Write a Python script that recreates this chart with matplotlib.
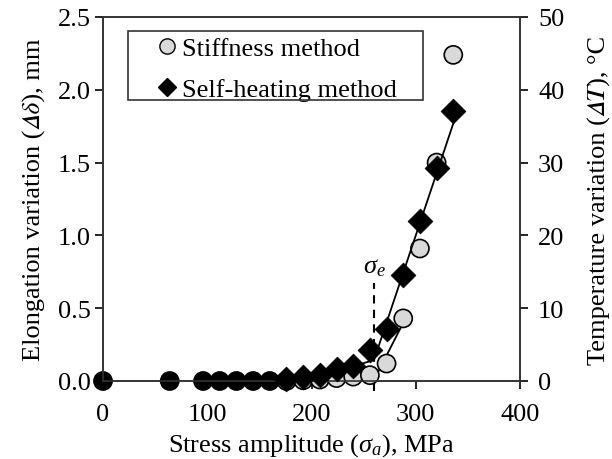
import matplotlib
matplotlib.use("Agg")
import matplotlib.pyplot as plt
from matplotlib.lines import Line2D
from matplotlib.patches import Rectangle

plt.rcParams['font.family'] = ['Liberation Serif', 'STIXGeneral', 'DejaVu Serif']
plt.rcParams['mathtext.fontset'] = 'custom'
plt.rcParams['mathtext.rm'] = 'Liberation Serif'
plt.rcParams['mathtext.it'] = 'Liberation Serif:italic'

# Data
stress = [0, 64, 96, 112, 128, 144, 160, 176, 192, 208, 224, 240, 256, 272, 288, 304, 320, 336]
stiffness = [0, 0, 0, 0, 0, 0, 0, 0.0, 0.005, 0.01, 0.02, 0.03, 0.04, 0.12, 0.43, 0.91, 1.50, 2.24]
sh_stress = [176, 192, 208, 224, 240, 256, 272, 288, 304, 320, 336]
sh_temp = [0.3, 0.5, 0.8, 1.6, 2.1, 4.3, 7.1, 14.6, 22.0, 29.3, 37.1]
# fitted lines
stiff_fit_x = [259.5, 288]
stiff_fit_y = [0.0, 0.40]
sh_fit_low_x = [200, 260]
sh_fit_low_y = [0.2, 2.9]
sh_fit_high_x = [260, 337]
sh_fit_high_y = [2.9, 35.8]
sigma_e = 260
x_ticks = [0, 100, 200, 300, 400]
left_ticks = [0, 0.5, 1.0, 1.5, 2.0, 2.5]
left_ticklabels = ['0.0', '0.5', '1.0', '1.5', '2.0', '2.5']
right_ticks = [0, 10, 20, 30, 40, 50]

W, H = 612, 460
fig = plt.figure(figsize=(6.12, 4.6), dpi=100)
ax = fig.add_axes([103/W, 1-382/H, (520-103)/W, (382-18)/H])
ax2 = ax.twinx()

fs = 19
gray = '#d9d9d9'
face = ['black' if s < 170 else gray for s in stress]

ax.plot(stiff_fit_x, stiff_fit_y, color='black', lw=1.3, zorder=2)
ax.scatter(stress, stiffness, s=170, c=face, edgecolors='black', linewidths=1.2,
           zorder=3, clip_on=False)

ax2.plot(sh_fit_low_x, sh_fit_low_y, color='black', lw=1.3, zorder=2)
ax2.plot(sh_fit_high_x, sh_fit_high_y, color='black', lw=1.3, zorder=2)
ax2.scatter(sh_stress, sh_temp, s=160, marker='D', c='black', edgecolors='black',
            linewidths=0.5, zorder=4, clip_on=False)

ax.set_xlim(0, 400)
ax.set_ylim(0, 2.5)
ax2.set_ylim(0, 50)
ax.set_xticks(x_ticks)
ax.set_yticks(left_ticks)
ax.set_yticklabels(left_ticklabels)
ax2.set_yticks(right_ticks)

ax.tick_params(axis='both', direction='out', length=6, width=1.2, labelsize=fs)
ax.tick_params(axis='x', pad=10)
ax.tick_params(axis='y', pad=3)
ax2.tick_params(axis='y', direction='out', length=6, width=1.2, labelsize=fs, pad=7)
for a in (ax, ax2):
    for sp in a.spines.values():
        sp.set_linewidth(1.2)
        sp.set_color('#333333')

ax.set_xlabel(r'Stress amplitude ($\mathit{\sigma_a}$), MPa', fontsize=fs)
ax.xaxis.set_label_coords(0.5, -0.138)
ax.set_ylabel('Elongation variation (\U0001D6E5\U0001D6FF), mm', fontsize=fs)
ax.yaxis.set_label_coords(-0.137, 0.5)
ax2.set_ylabel('Temperature variation (\U0001D6E5\U0001D447), \u00b0C', fontsize=fs,
               rotation=90)
ax2.yaxis.set_label_coords(1.163, 0.5)

# sigma_e marker
ax.plot([sigma_e, sigma_e], [-0.07, 0.67], color='black', lw=1.5, ls=(0, (4, 3)),
        clip_on=False, zorder=1)
ax.text(sigma_e, 0.71, r'$\mathit{\sigma_e}$', fontsize=fs, ha='center', va='bottom')

# legend (entries without frame, box drawn separately)
handles = [
    Line2D([], [], ls='none', marker='o', markersize=11, markerfacecolor=gray,
           markeredgecolor='black', markeredgewidth=1.0),
    Line2D([], [], ls='none', marker='D', markersize=9.5, markerfacecolor='black',
           markeredgecolor='black'),
]
labels = ['Stiffness method', 'Self-heating method']
ax_w, ax_h = 417, 364
leg = ax2.legend(handles, labels, loc='upper left',
                 bbox_to_anchor=((154 - 103) / ax_w, 1 - (38 - 18) / ax_h),
                 fontsize=fs, frameon=False, handletextpad=0.05, handlelength=1.0,
                 borderpad=0, labelspacing=0.66, borderaxespad=0)
box = Rectangle((128/W, 1-101/H), (423-128)/W, (101-32)/H, transform=fig.transFigure,
                fill=False, edgecolor='#333333', linewidth=1.2, zorder=5)
fig.patches.append(box)

fig.savefig('out.png', dpi=100)
